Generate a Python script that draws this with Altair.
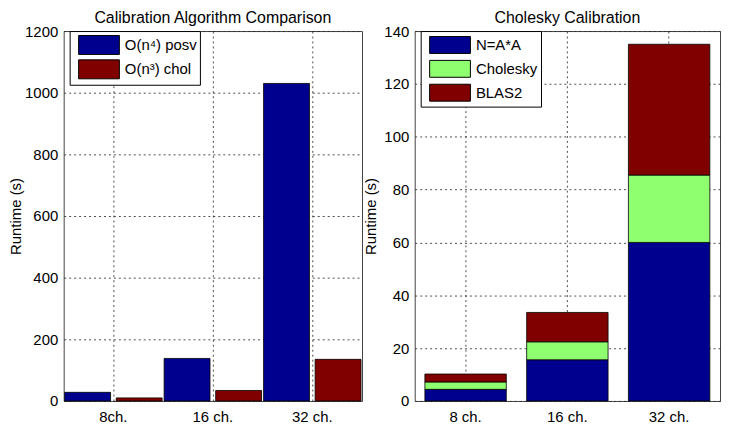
import altair as alt
import pandas as pd

FONT = "Liberation Sans"

# ---- data ----
left_cats = ["8ch.", "16 ch.", "32 ch."]
left_series = ["O(n⁴) posv", "O(n³) chol"]
posv_vals = [28, 138, 1030]
chol_vals = [10, 34, 135]
left_colors = ["#00008F", "#800000"]

right_cats = ["8 ch.", "16 ch.", "32 ch."]
right_series = ["N=A*A", "Cholesky", "BLAS2"]
naa_vals = [4.4, 15.6, 60.0]
cholesky_vals = [2.8, 6.8, 25.5]
blas2_vals = [3.0, 11.1, 49.5]
right_colors = ["#00008F", "#8FFF70", "#800000"]

rows = []
for s, vals in zip(left_series, [posv_vals, chol_vals]):
    for c, v in zip(left_cats, vals):
        rows.append({"cat": c, "series": s, "value": v})
ldf = pd.DataFrame(rows)

rows = []
for i, (s, vals) in enumerate(zip(right_series, [naa_vals, cholesky_vals, blas2_vals])):
    for c, v in zip(right_cats, vals):
        rows.append({"cat": c, "series": s, "value": v, "order": i})
rdf = pd.DataFrame(rows)


def legend(path, x, row_pad):
    return alt.Legend(
        orient="none", legendX=x, legendY=0, title=None,
        strokeColor="black", fillColor="white", padding=3,
        symbolType=path, symbolSize=420, symbolOffset=15.5,
        symbolStrokeColor="black", symbolStrokeWidth=1, symbolOpacity=1,
        labelFontSize=15, labelFont=FONT, labelColor="black",
        rowPadding=row_pad, labelOffset=15, cornerRadius=0,
    )


grid_style = dict(grid=True, gridColor="#222", gridDash=[2, 3], gridWidth=1,
                  gridOpacity=0.8)

left = alt.Chart(ldf).mark_bar(stroke="black", strokeWidth=0.8).encode(
    x=alt.X("cat:N", sort=left_cats,
            scale=alt.Scale(paddingInner=0.02, paddingOuter=0.01),
            axis=alt.Axis(title=None, labelAngle=0, bandPosition=0.5,
                          ticks=False, labelPadding=9, **grid_style)),
    xOffset=alt.XOffset("series:N", sort=left_series,
                        scale=alt.Scale(paddingInner=0.11, paddingOuter=0)),
    y=alt.Y("value:Q", scale=alt.Scale(domain=[0, 1200], nice=False),
            axis=alt.Axis(values=list(range(0, 1201, 200)), format="d",
                          title="Runtime (s)", ticks=False, labelPadding=6,
                          titlePadding=1, **grid_style)),
    color=alt.Color("series:N", sort=left_series,
                    scale=alt.Scale(domain=left_series, range=left_colors),
                    legend=legend("M-2,-0.93H2V0.93H-2Z", 6, 0.5)),
).properties(width=300, height=372,
             title=alt.TitleParams("Calibration Algorithm Comparison"))

right = alt.Chart(rdf).mark_bar(stroke="black", strokeWidth=0.8).encode(
    x=alt.X("cat:N", sort=right_cats,
            scale=alt.Scale(paddingInner=0.2, paddingOuter=0.1),
            axis=alt.Axis(title=None, labelAngle=0, bandPosition=0.5,
                          ticks=False, labelPadding=9, **grid_style)),
    y=alt.Y("value:Q", stack="zero", scale=alt.Scale(domain=[0, 140], nice=False),
            axis=alt.Axis(values=list(range(0, 141, 20)), format="d",
                          title="Runtime (s)", ticks=False, labelPadding=6,
                          titlePadding=5, **grid_style)),
    color=alt.Color("series:N", sort=right_series,
                    scale=alt.Scale(domain=right_series, range=right_colors),
                    legend=legend("M-2,-0.83H2V0.83H-2Z", 6, 2)),
    order=alt.Order("order:Q", sort="ascending"),
).properties(width=307, height=372,
             title=alt.TitleParams("Cholesky Calibration"))

chart = alt.hconcat(left, right, spacing=0).resolve_scale(
    color="independent", x="independent", y="independent"
).resolve_legend(color="independent").configure(
    font=FONT, padding=0,
).configure_view(
    stroke="#444", strokeWidth=1,
).configure_axis(
    domain=False, labelFont=FONT, labelFontSize=15, labelColor="black",
    titleFont=FONT, titleFontSize=15, titleFontWeight="normal", titleColor="black",
).configure_title(
    font=FONT, fontSize=16, fontWeight="normal", color="black", offset=-2,
    anchor="middle", frame="group",
)

chart.save("out.html", embed_options={"renderer": "svg", "actions": False})
